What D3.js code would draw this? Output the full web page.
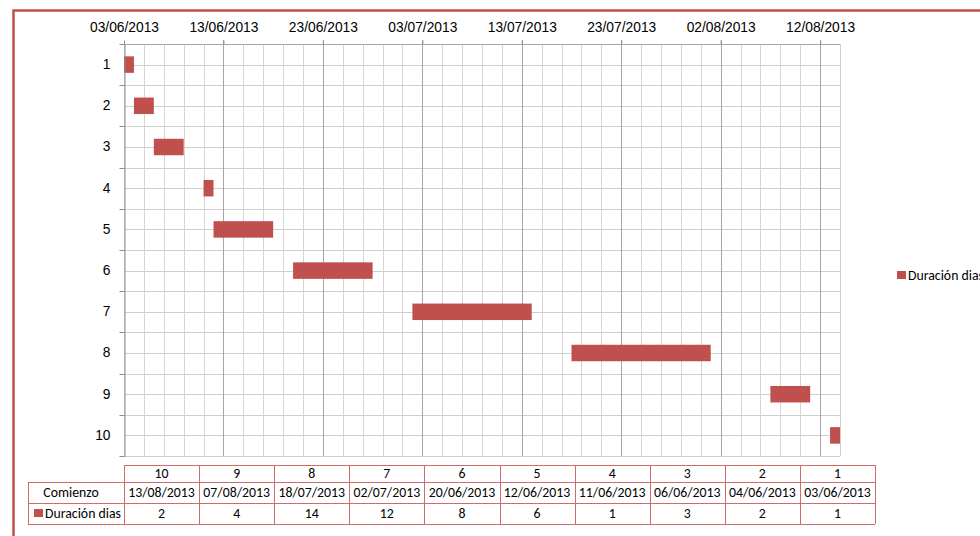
<!DOCTYPE html>
<html>
<head>
<meta charset="utf-8">
<script src="https://cdn.jsdelivr.net/npm/d3@7"></script>
<style>
  body { margin: 0; background: #fff; }
  svg { display: block; font-family: Carlito, Lato, sans-serif; }
</style>
</head>
<body>
<svg id="viz" width="980" height="536"></svg>
<script>
// Gantt data
const tasks = ['1', '2', '3', '4', '5', '6', '7', '8', '9', '10'];
const startLabels = ['03/06/2013', '04/06/2013', '06/06/2013', '11/06/2013', '12/06/2013',
  '20/06/2013', '02/07/2013', '18/07/2013', '07/08/2013', '13/08/2013'];
const durations = [1, 2, 3, 1, 6, 8, 12, 14, 4, 2];
const axisRange = ['03/06/2013', '14/08/2013'];
const seriesName = 'Duración dias';
const startRowName = 'Comienzo';

const parseDate = d3.utcParse('%d/%m/%Y');
const fmtDate = d3.utcFormat('%d/%m/%Y');
const barColor = '#c0504d';
const fontSize = 13.8;

const plot = { left: 124, right: 840, top: 44, bottom: 456 };

const svg = d3.select('#viz');

const x = d3.scaleUtc()
  .domain(axisRange.map(parseDate))
  .range([plot.left, plot.right])
  .clamp(true);

const y = d3.scaleBand()
  .domain(tasks)
  .range([plot.top, plot.bottom])
  .paddingInner(0.6)
  .paddingOuter(0.3);

const data = tasks.map((t, i) => ({
  task: t,
  start: parseDate(startLabels[i]),
  label: startLabels[i],
  dur: durations[i],
}));

// outer chart border (runs off the page)
svg.append('rect')
  .attr('x', 13.5).attr('y', 10.5)
  .attr('width', 1200).attr('height', 800)
  .attr('fill', 'none')
  .attr('stroke', barColor)
  .attr('stroke-width', 2.5);

const g = svg.append('g');

// vertical grid: minor every 2 days, major every 10
const minorDays = d3.utcDay.range(x.domain()[0], d3.utcDay.offset(x.domain()[1], 1), 2);
const majorDays = d3.utcDay.range(x.domain()[0], x.domain()[1], 10);

g.append('g')
  .selectAll('line')
  .data(minorDays)
  .join('line')
  .attr('x1', (d) => Math.round(x(d)) + 0.5)
  .attr('x2', (d) => Math.round(x(d)) + 0.5)
  .attr('y1', plot.top)
  .attr('y2', plot.bottom)
  .attr('stroke', '#d4d4d4');

// horizontal grid: category boundaries and centres
const step = y.step();
const hLines = d3.range(0, tasks.length * 2 + 1).map((i) => plot.top + (i * step) / 2);
g.append('g')
  .selectAll('line')
  .data(hLines)
  .join('line')
  .attr('x1', plot.left)
  .attr('x2', plot.right)
  .attr('y1', (d) => Math.round(d) + 0.5)
  .attr('y2', (d) => Math.round(d) + 0.5)
  .attr('stroke', '#cfcfcf');

// major vertical lines + top ticks
g.append('g')
  .selectAll('line')
  .data(majorDays.slice(1))
  .join('line')
  .attr('x1', (d) => Math.round(x(d)) + 0.5)
  .attr('x2', (d) => Math.round(x(d)) + 0.5)
  .attr('y1', plot.top - 4)
  .attr('y2', plot.bottom)
  .attr('stroke', '#a6a6a6');

// plot frame
g.append('line')
  .attr('x1', plot.right + 0.5).attr('x2', plot.right + 0.5)
  .attr('y1', plot.top).attr('y2', plot.bottom)
  .attr('stroke', '#cfcfcf');

// bars
g.append('g')
  .selectAll('rect')
  .data(data)
  .join('rect')
  .attr('x', (d) => x(d.start))
  .attr('y', (d) => y(d.task))
  .attr('width', (d) => x(d3.utcDay.offset(d.start, d.dur)) - x(d.start))
  .attr('height', y.bandwidth())
  .attr('fill', barColor);

// top axis
const topAxis = d3.axisTop(x)
  .tickValues(majorDays)
  .tickFormat(fmtDate)
  .tickSize(4)
  .tickPadding(9);
const ta = svg.append('g')
  .attr('transform', `translate(0,${plot.top + 0.5})`)
  .call(topAxis);
ta.select('.domain').attr('stroke', '#a6a6a6').attr('d', `M${plot.left},0H${plot.right}`);
ta.selectAll('.tick line').attr('stroke', '#8c8c8c');
ta.selectAll('text').attr('font-size', fontSize).attr('fill', '#000').attr('font-family', null);

// left axis
const leftAxis = d3.axisLeft(y).tickSize(0).tickPadding(14);
const la = svg.append('g')
  .attr('transform', `translate(${plot.left + 0.5},0)`)
  .call(leftAxis);
la.select('.domain').attr('stroke', '#8c8c8c');
la.selectAll('text').attr('font-size', fontSize).attr('fill', '#000').attr('font-family', null);
la.append('g')
  .selectAll('line')
  .data(d3.range(0, tasks.length + 1))
  .join('line')
  .attr('x1', -5).attr('x2', 0)
  .attr('y1', (i) => Math.round(plot.top + i * step) + 0.5)
  .attr('y2', (i) => Math.round(plot.top + i * step) + 0.5)
  .attr('stroke', '#8c8c8c');

// data table
const cols = tasks.slice().reverse();
const tx = d3.scaleBand().domain(cols).range([124, 875]);
const rowsY = [465, 482, 503, 524];
const labelX = 28;
const tableStroke = '#cf6b6b';
const tg = svg.append('g').attr('font-size', fontSize);

// horizontal table lines
tg.append('line').attr('x1', 124).attr('x2', 875).attr('y1', rowsY[0] + 0.5).attr('y2', rowsY[0] + 0.5).attr('stroke', tableStroke);
[rowsY[1], rowsY[2], rowsY[3]].forEach((yy) => {
  tg.append('line').attr('x1', labelX).attr('x2', 875)
    .attr('y1', yy + 0.5).attr('y2', yy + 0.5).attr('stroke', tableStroke);
});
tg.append('line').attr('x1', labelX + 0.5).attr('x2', labelX + 0.5)
  .attr('y1', rowsY[1]).attr('y2', rowsY[3]).attr('stroke', tableStroke);
tg.selectAll('line.col')
  .data(cols.concat(['end']))
  .join('line')
  .attr('class', 'col')
  .attr('x1', (d, i) => Math.round(124 + i * tx.bandwidth()) + 0.5)
  .attr('x2', (d, i) => Math.round(124 + i * tx.bandwidth()) + 0.5)
  .attr('y1', rowsY[0])
  .attr('y2', rowsY[3])
  .attr('stroke', tableStroke);

const byTask = new Map(data.map((d) => [d.task, d]));
const cellText = (rowIdx, fn) => {
  tg.append('g')
    .selectAll('text')
    .data(cols)
    .join('text')
    .attr('x', (d) => tx(d) + tx.bandwidth() / 2)
    .attr('y', (rowsY[rowIdx] + rowsY[rowIdx + 1]) / 2)
    .attr('dy', '0.35em')
    .attr('text-anchor', 'middle')
    .text(fn);
};
cellText(0, (d) => d);
cellText(1, (d) => byTask.get(d).label);
cellText(2, (d) => byTask.get(d).dur);

tg.append('text')
  .attr('x', 71).attr('y', (rowsY[1] + rowsY[2]) / 2).attr('dy', '0.35em')
  .attr('text-anchor', 'middle')
  .text(startRowName);
tg.append('rect').attr('x', 34).attr('y', 509).attr('width', 9).attr('height', 8).attr('fill', barColor);
tg.append('text')
  .attr('x', 45).attr('y', (rowsY[2] + rowsY[3]) / 2).attr('dy', '0.35em')
  .text(seriesName);

// legend
svg.append('rect').attr('x', 897).attr('y', 271).attr('width', 9).attr('height', 8).attr('fill', barColor);
svg.append('text')
  .attr('x', 908).attr('y', 275).attr('dy', '0.35em')
  .attr('font-size', fontSize)
  .text(seriesName);
</script>
</body>
</html>
